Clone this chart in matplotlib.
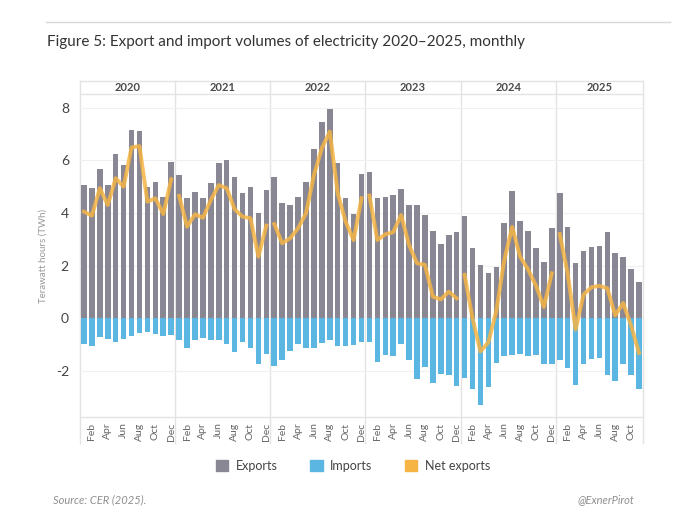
import numpy as np
import matplotlib
matplotlib.use('Agg')
import matplotlib.pyplot as plt
from matplotlib.patches import Patch

plt.rcParams['font.family'] = ['Lato', 'DejaVu Sans']

# monthly values, Jan 2020 .. Nov 2025 (TWh)
years = ['2020', '2021', '2022', '2023', '2024', '2025']
months_per_year = [12, 12, 12, 12, 12, 11]
month_names = ['Jan', 'Feb', 'Mar', 'Apr', 'May', 'Jun',
               'Jul', 'Aug', 'Sep', 'Oct', 'Nov', 'Dec']

exports = [5.06, 4.96, 5.67, 5.06, 6.24, 5.82, 7.15, 7.13, 4.97, 5.19, 4.62, 5.92,
           5.44, 4.56, 4.81, 4.56, 5.15, 5.89, 6.01, 5.38, 4.77, 5.00, 4.01, 4.87,
           5.37, 4.39, 4.30, 4.62, 5.19, 6.42, 7.44, 7.95, 5.89, 4.58, 3.97, 5.47,
           5.57, 4.58, 4.62, 4.68, 4.92, 4.32, 4.32, 3.92, 3.33, 2.82, 3.16, 3.29,
           3.87, 2.68, 2.03, 1.71, 1.94, 3.61, 4.85, 3.71, 3.32, 2.68, 2.15, 3.42,
           4.76, 3.48, 2.09, 2.57, 2.72, 2.76, 3.28, 2.49, 2.34, 1.89, 1.37]

imports = [-0.97, -1.04, -0.71, -0.78, -0.91, -0.78, -0.68, -0.57, -0.52, -0.58, -0.69, -0.64,
           -0.84, -1.13, -0.83, -0.74, -0.83, -0.81, -0.96, -1.29, -0.90, -1.13, -1.73, -1.36,
           -1.82, -1.58, -1.26, -0.97, -1.14, -1.13, -0.94, -0.82, -1.04, -1.04, -1.00, -0.90,
           -0.90, -1.65, -1.39, -1.43, -0.96, -1.58, -2.30, -1.84, -2.45, -2.10, -2.14, -2.56,
           -2.26, -2.69, -3.30, -2.62, -1.68, -1.45, -1.39, -1.36, -1.42, -1.39, -1.74, -1.73,
           -1.58, -1.87, -2.52, -1.73, -1.55, -1.52, -2.14, -2.40, -1.74, -2.17, -2.69]

net_exports = [4.05, 3.90, 4.94, 4.30, 5.32, 5.00, 6.49, 6.54, 4.43, 4.56, 3.96, 5.28,
               4.65, 3.48, 3.95, 3.82, 4.49, 5.06, 4.94, 4.14, 3.86, 3.80, 2.34, 3.52,
               3.58, 2.85, 3.04, 3.42, 3.99, 5.44, 6.46, 7.09, 4.75, 3.67, 2.97, 4.56,
               4.66, 2.97, 3.19, 3.27, 3.92, 2.78, 2.09, 2.03, 0.82, 0.72, 1.01, 0.76,
               1.65, 0.00, -1.26, -0.91, 0.28, 2.20, 3.47, 2.34, 1.86, 1.24, 0.43, 1.71,
               3.20, 1.70, -0.43, 0.90, 1.18, 1.23, 1.14, 0.11, 0.58, -0.28, -1.32]

c_exp = '#8a8795'
c_imp = '#5cb6e2'
c_net = '#f5b444'
c_grid = '#e3e3e3'

fig = plt.figure(figsize=(6.8, 5.25), dpi=100)
ax = fig.add_axes([80 / 680, 1 - 417 / 525, 563 / 680, 323 / 525])

x = np.arange(len(exports))
ax.bar(x, exports, width=0.7, color=c_exp, zorder=2)
ax.bar(x, imports, width=0.7, color=c_imp, zorder=2)

# net exports drawn as a separate segment per year
start = 0
for n in months_per_year:
    ax.plot(x[start:start + n], net_exports[start:start + n], color=c_net,
            lw=2.8, alpha=0.85, solid_joinstyle='round', zorder=3)
    start += n

ax.set_xlim(-0.5, len(exports) - 0.5)
ax.set_ylim(-3.75, 8.52)
ax.set_yticks([-2, 0, 2, 4, 6, 8])
ax.set_yticklabels(['-2', '0', '2', '4', '6', '8'])
ax.tick_params(axis='y', length=0, pad=8, labelsize=10, labelcolor='#444444')
ax.grid(axis='y', color='#f0f0f0', lw=0.8, zorder=0)

labels = []
ticks = []
for m in range(len(exports)):
    name = month_names[m % 12]
    if name in ('Feb', 'Apr', 'Jun', 'Aug', 'Oct', 'Dec'):
        ticks.append(m)
        labels.append(name)
ax.set_xticks(ticks)
ax.set_xticklabels(labels, rotation=90, fontsize=7.5, color='#666666')
ax.tick_params(axis='x', length=0, pad=4)

for s in ['top', 'right', 'left', 'bottom']:
    ax.spines[s].set_visible(False)

ax.set_ylabel('Terawatt hours (TWh)', fontsize=7, color='#999999', labelpad=6)

# year header band and separators
top_band = 1 + 13 / 323
bottom_ext = -26 / 323
ax.plot([0, 1], [top_band, top_band], transform=ax.transAxes, color=c_grid,
        lw=1, clip_on=False)
ax.plot([0, 1], [1, 1], transform=ax.transAxes, color=c_grid, lw=1, clip_on=False)
ax.plot([0, 1], [0, 0], transform=ax.transAxes, color=c_grid, lw=1, clip_on=False)
trans = ax.get_xaxis_transform()
edges = np.concatenate([[0], np.cumsum(months_per_year)]) - 0.5
for e in edges:
    ax.plot([e, e], [bottom_ext, top_band], transform=trans, color=c_grid,
            lw=1, clip_on=False, zorder=1)
for i, yr in enumerate(years):
    ax.text((edges[i] + edges[i + 1]) / 2, 1 + 6.5 / 323, yr, transform=trans,
            ha='center', va='center', fontsize=8, fontweight='bold', color='#4a4a4a')

# title and rule
fig.add_artist(plt.Line2D([46 / 680, 670 / 680], [1 - 22 / 525, 1 - 22 / 525],
                          color='#d8d8d8', lw=1))
fig.text(47 / 680, 1 - 42 / 525, 'Figure 5: Export and import volumes of electricity 2020\u20132025, monthly',
         fontsize=11, color='#333333', va='center', ha='left')

handles = [Patch(color=c_exp, label='Exports'),
           Patch(color=c_imp, label='Imports'),
           Patch(color=c_net, label='Net exports')]
fig.legend(handles=handles, loc='center', bbox_to_anchor=(353 / 680, 1 - 466 / 525),
           ncol=3, frameon=False, fontsize=9, handlelength=1.0, handleheight=1.0,
           handletextpad=0.6, columnspacing=2.6, labelcolor='#444444')

fig.text(53 / 680, 1 - 500 / 525, 'Source: CER (2025).', fontsize=8, style='italic',
         color='#8f8f8f', va='center', ha='left')
fig.text(634 / 680, 1 - 500 / 525, '@ExnerPirot', fontsize=8, style='italic',
         color='#8f8f8f', va='center', ha='right')

fig.savefig('out.png', dpi=100)
